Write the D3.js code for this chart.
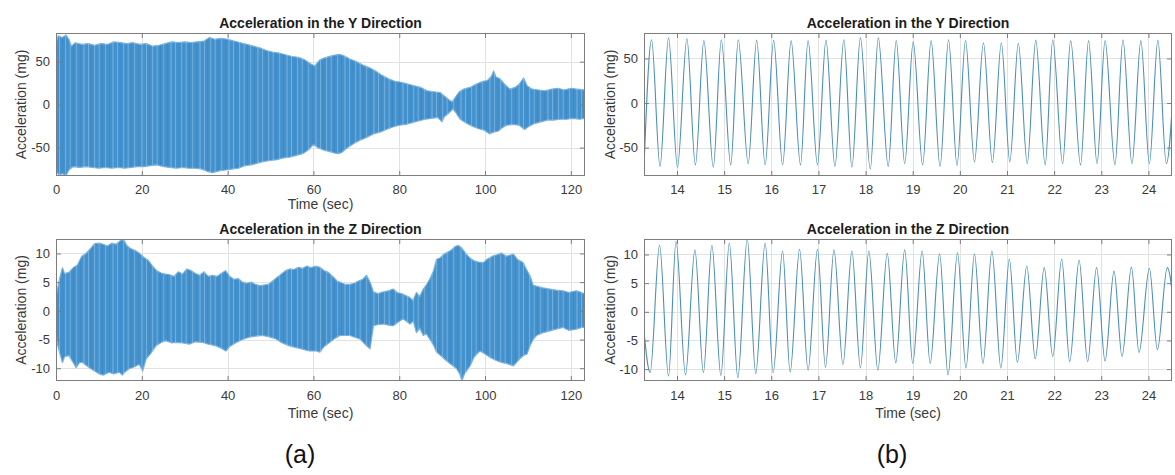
<!DOCTYPE html>
<html>
<head>
<meta charset="utf-8">
<script src="https://cdn.jsdelivr.net/npm/d3@7"></script>
<style>
  html, body { margin: 0; padding: 0; background: #ffffff; }
  svg { display: block; font-family: "Liberation Sans", Arial, Helvetica, sans-serif; }
</style>
</head>
<body>
<svg id="fig" width="1175" height="475"></svg>
<script>
// ---------- Full record (0–123 s): envelope of the acceleration trace ----------
// Y direction, upper envelope (time in s, acceleration in mg)
const yUpperTime = [0, 0.5, 1.5, 2.3, 3, 3.6, 4.5, 6, 7.5, 9, 10.5, 12, 13.5, 15, 16.5, 18, 19.5, 21, 22.5, 24, 25.5, 27, 28.5, 30, 31.5, 33, 34.5, 35.8, 37, 38.5, 40, 41.5, 43, 44.5, 46, 47.5, 49, 50.5, 52, 53.5, 55, 56.5, 58, 59.5, 60.3, 61.5, 63, 64.5, 66, 67, 68.5, 70, 71.5, 73, 74.5, 76, 77.5, 79, 80.5, 82, 83.5, 85, 86.5, 88, 89.5, 90.5, 91.5, 92.3, 93, 94, 95, 96.5, 98, 99.5, 100.5, 101.5, 102, 102.6, 103.5, 104.5, 105.8, 107, 108, 109, 109.8, 111, 112.5, 114, 115.5, 117, 118.5, 120, 121.5, 123.3];
const yUpperVal  = [72, 80, 78, 81, 76, 68, 72, 70, 71, 69, 71, 70, 73, 72, 71, 72, 70, 71, 68, 69, 71, 73, 72, 73, 72, 73, 74, 78, 76, 77, 76, 74, 72, 70, 68, 66, 63, 61, 60, 58, 56, 55, 52, 47, 45, 52, 55, 57, 58.5, 57, 53, 50, 46, 43, 39, 34, 30, 27, 26, 24, 22, 20, 16, 15, 14, 10, 6, 3, 8, 15, 18, 20, 24, 27, 28, 33, 39, 32, 30, 24, 18, 20, 24, 31, 22, 18, 17, 16, 18, 19, 17, 19, 18, 17];
// Y direction, lower envelope
const yLowerTime = [0, 0.8, 1.5, 2.3, 3, 4, 5.5, 7, 8.5, 10, 11.5, 13, 14.5, 16, 17.5, 19, 20.5, 22, 23.5, 25, 26.5, 28, 29.5, 31, 32.5, 34, 35.5, 36.5, 38, 39.5, 41, 42.5, 44, 45.5, 47, 48.5, 50, 51.5, 53, 54.5, 56, 57.5, 59, 60, 61, 62.5, 64, 65.5, 66.5, 68, 69.5, 71, 72.5, 74, 75.5, 77, 78.5, 80, 81.5, 83, 84.5, 86, 87.5, 89, 90, 90.5, 91.5, 92.5, 93.3, 94.2, 95.5, 97, 98.5, 100, 101, 102, 103, 104, 105, 106.5, 108, 109.2, 110, 111.5, 113, 114.5, 116, 117.5, 119, 120.5, 122, 123.3];
const yLowerVal  = [-78, -82, -80, -83, -76, -72, -73, -72, -73, -74, -73, -74, -73, -74, -73, -72, -72, -71, -70, -72, -73, -74, -73, -74, -74, -75, -78, -79, -77, -76, -75, -74, -71, -70, -68, -66, -65, -64, -62, -61, -59, -57, -52, -46, -50, -53, -55, -57, -56, -50, -45, -41, -38, -34, -32, -29, -26, -24, -23, -21, -19, -17, -16, -15, -20, -14, -10, -5, -10, -17, -21, -25, -28, -30, -34, -32, -31, -27, -24, -23, -24, -29, -26, -22, -20, -18, -18, -17, -17, -16, -17, -16];

// Z direction, upper envelope
const zUpperTime = [0, 0.4, 0.8, 1.5, 2, 3, 4, 5, 6, 7, 8, 9, 10, 11, 12, 13, 14, 15, 15.7, 16.5, 17.5, 18.5, 19.5, 20.5, 21.5, 22.5, 23.5, 24.5, 25.5, 26.5, 27.5, 28.5, 29.5, 30.5, 31.5, 32.5, 33.5, 34.5, 35.5, 36.5, 37.5, 38.5, 39.5, 40.5, 41.5, 42.5, 43.5, 44.5, 45.5, 46.5, 47.5, 48.5, 49.5, 50.5, 51.5, 52.5, 53.5, 54.5, 55.5, 56.5, 57.5, 58.5, 59.5, 60.5, 61.5, 62.5, 63.5, 64.5, 65.5, 66.5, 67.5, 68.5, 69.5, 70.5, 71.5, 72.4, 73.2, 74, 75, 76.3, 77.5, 78.6, 79.5, 80.9, 82, 82.5, 83.2, 84, 84.8, 85.6, 86.3, 87.1, 88, 88.7, 89.5, 90.3, 91, 92, 93, 93.8, 94.5, 95.5, 96.5, 97.5, 98.5, 99.6, 100.5, 101.9, 103, 103.8, 105, 106.6, 107.5, 108.9, 109.8, 110.5, 111.2, 112, 113.5, 115.1, 116.5, 118.2, 119.5, 121.3, 122.5, 123.3];
const zUpperVal  = [2.5, 4, 5.5, 7.5, 6.5, 6.7, 7.5, 8, 9.5, 10, 10.8, 11.7, 11.8, 11.6, 11.3, 11.8, 11.6, 12.2, 12.5, 11.4, 10.8, 10.5, 10, 9.3, 8.8, 7.8, 7, 6.6, 6.4, 6.3, 6, 6.8, 6.4, 7.3, 7, 6.5, 6.2, 6.8, 6, 6.2, 6, 6.5, 7, 6, 5.5, 5.6, 5, 4.8, 5, 4.6, 4.4, 4.5, 4.6, 5.2, 5.8, 6.4, 7, 7.3, 7.2, 7.6, 7.4, 7.8, 7.5, 7.8, 7.6, 7, 6.7, 6, 5.2, 4.9, 4.6, 4.6, 4.8, 5.2, 5.5, 6.2, 5, 3.3, 3, 3.3, 3.5, 3.8, 3.2, 2.9, 2.5, 2.3, 1.8, 3.2, 2.5, 3.8, 4.5, 5.5, 7, 9, 9.2, 9.8, 10.1, 10.5, 11.2, 11.4, 11, 10, 9.2, 8.7, 8.5, 8.4, 9, 9.6, 9.8, 10.1, 9.5, 9.9, 9, 8.4, 7, 6.1, 4.5, 4.3, 4, 3.8, 3.6, 3.5, 3.2, 3.5, 3.2, 2.9];
// Z direction, lower envelope
const zLowerTime = [0, 0.4, 0.8, 1.5, 2, 3, 4, 4.7, 5.5, 6.2, 7, 7.8, 9, 10.1, 11, 12.4, 13.4, 14.8, 15.5, 16, 17.1, 18.5, 19.4, 20.2, 21, 22, 23.3, 24.5, 25.6, 27, 28, 29.5, 31.1, 32.5, 34.2, 35.5, 37.3, 38.5, 39.6, 40.5, 42, 43.5, 45, 46.5, 48.2, 49.5, 51.3, 52.5, 54.4, 56, 57.5, 59, 60.6, 61.5, 62.5, 63.8, 65, 66.2, 68.5, 70.8, 72.4, 73.2, 74, 75, 76.3, 77.5, 78.6, 79.7, 80.9, 82.5, 83.3, 84, 84.8, 85.6, 86.3, 87.1, 88, 88.7, 90, 91, 92.2, 93.4, 94.1, 94.6, 95.2, 96.5, 97.5, 98.8, 100, 101.1, 102.5, 103.8, 105.2, 106.6, 107.8, 108.9, 109.8, 110.5, 111.2, 112, 113.5, 115.1, 116.5, 118.2, 119.5, 121.3, 122.5, 123.3];
const zLowerVal  = [-4, -6, -7.2, -9, -8, -7.8, -9, -9.9, -9, -9, -9.5, -9.9, -10.5, -11, -11.2, -10.7, -11, -10.7, -11.2, -10.7, -10.1, -9.7, -9.3, -10.5, -8.4, -7.5, -6.1, -5.5, -5.2, -5.6, -5.5, -5.6, -5.8, -5.4, -5.5, -5.8, -6.1, -6.5, -7, -6.2, -5.5, -5, -4.6, -4.4, -4.3, -4.5, -4.9, -5.5, -6.1, -6.4, -6.7, -7, -7, -7.2, -6.2, -5.5, -4.8, -4.3, -4.3, -4.9, -6.1, -6.6, -2.6, -2.4, -2.3, -2.5, -2.6, -2, -1.4, -2.3, -1.8, -3.8, -3, -4.3, -4, -4.9, -6, -7.2, -8, -8.7, -9.4, -10.1, -11, -12.2, -11, -9.6, -8, -7, -7.5, -8.1, -8.6, -9, -9.2, -9.6, -8.6, -7.8, -7.5, -6.1, -5, -4.3, -3.8, -3.5, -3.2, -2.9, -3.4, -3.2, -2.9, -2.9];

// ---------- Close-up window (13.3–24.5 s): successive peaks and troughs ----------
const yPeakTime = [13.30, 13.46, 13.64, 13.82, 14.01, 14.21, 14.39, 14.57, 14.77, 14.94, 15.14, 15.30, 15.51, 15.69, 15.87, 16.05, 16.24, 16.42, 16.62, 16.78, 16.98, 17.16, 17.35, 17.54, 17.71, 17.89, 18.10, 18.27, 18.48, 18.65, 18.83, 19.01, 19.21, 19.39, 19.58, 19.76, 19.94, 20.12, 20.31, 20.50, 20.69, 20.88, 21.06, 21.24, 21.43, 21.61, 21.81, 21.97, 22.18, 22.35, 22.56, 22.73, 22.91, 23.08, 23.29, 23.46, 23.65, 23.84, 24.02, 24.20, 24.38, 24.58];
const yPeakVal  = [-72, 71, -71, 73, -72, 72, -69.5, 70, -72, 71, -69.5, 71, -68, 70.5, -69.5, 70.5, -69.5, 70, -69.5, 70, -69.5, 70.5, -71, 71, -72, 73, -74, 73, -71, 70, -68, 68.5, -69.5, 70, -71, 71, -70, 70, -66, 67.5, -67, 67.5, -66, 67, -68, 70.5, -69.5, 71, -68, 70, -69.5, 70, -68, 70, -69.5, 71, -68, 70, -68, 70.5, -68, 69];

const zPeakTime = [13.30, 13.43, 13.63, 13.82, 13.98, 14.18, 14.38, 14.56, 14.74, 14.93, 15.11, 15.29, 15.49, 15.67, 15.87, 16.04, 16.24, 16.40, 16.60, 16.78, 16.98, 17.15, 17.33, 17.52, 17.71, 17.89, 18.07, 18.26, 18.46, 18.64, 18.83, 19.00, 19.20, 19.37, 19.57, 19.75, 19.95, 20.13, 20.31, 20.49, 20.68, 20.87, 21.05, 21.22, 21.42, 21.60, 21.79, 21.97, 22.16, 22.33, 22.53, 22.71, 22.90, 23.08, 23.27, 23.44, 23.64, 23.80, 24.02, 24.19, 24.40, 24.62];
const zPeakVal  = [-3.5, -10.6, 11.6, -11.2, 12.3, -11, 10.8, -10.6, 11.6, -11.1, 12, -11.5, 12.7, -10.8, 12, -10.6, 10.6, -10.5, 10.9, -10.2, 10.9, -9.65, 10.8, -9.2, 10.6, -9.8, 10.6, -10.2, 10.2, -8.9, 10.8, -9, 10.6, -9, 10.1, -11, 10.3, -9.8, 10.1, -9, 10.6, -9.8, 9.2, -8.8, 8, -8.2, 7.7, -7.8, 9.2, -8.7, 9, -8.7, 7.7, -8.6, 7.1, -7.8, 7.8, -7.1, 7.6, -6.6, 7.7, -7];

// ---------- Axis limits and ticks ----------
const fullTimeRange = [0, 123.3];
const zoomTimeRange = [13.3, 24.5];
const fullTimeTicks = [0, 20, 40, 60, 80, 100, 120];
const zoomTimeTicks = [14, 15, 16, 17, 18, 19, 20, 21, 22, 23, 24];
const yFullRange = [-83, 83.3];
const yZoomRange = [-81.8, 78.5];
const zFullRange = [-12.23, 12.52];
const zZoomRange = [-12.07, 12.7];
const yAccelTicks = [-50, 0, 50];
const zAccelTicks = [-10, -5, 0, 5, 10];

const titles = ["Acceleration in the Y Direction", "Acceleration in the Z Direction"];
const xLabel = "Time (sec)";
const yLabel = "Acceleration (mg)";
const panelTags = ["(a)", "(b)"];

const svg = d3.select("#fig");
const COL_TEXT = "#3a3a3a";
const COL_BOX = "#7d7d7d";
const COL_GRID = "#e2e2e2";

// fine vertical streaks that a densely sampled trace leaves inside its band
const defs = svg.append("defs");
const streaks = defs.append("pattern").attr("id", "streaks")
  .attr("patternUnits", "userSpaceOnUse").attr("width", 29).attr("height", 10);
[[1.2, 0.7, "#d8ecf9", 0.85], [4.6, 0.6, "#2c6fa6", 0.7], [7.3, 0.8, "#cfe6f7", 0.8],
 [11.8, 0.6, "#e6f3fc", 0.9], [14.9, 0.7, "#2a6aa0", 0.6], [18.4, 0.7, "#d4eaf8", 0.8],
 [22.1, 0.6, "#336fa3", 0.65], [25.6, 0.8, "#dceefa", 0.85]].forEach(([px, w, c, o]) => {
  streaks.append("rect").attr("x", px).attr("y", 0).attr("width", w).attr("height", 10)
    .attr("fill", c).attr("opacity", o);
});

let clipId = 0;

function panel(cfg) {
  const { x0, x1, y0, y1 } = cfg;
  const x = d3.scaleLinear().domain(cfg.xDomain).range([x0, x1]);
  const y = d3.scaleLinear().domain(cfg.yDomain).range([y1, y0]);
  const g = svg.append("g");

  // grid
  g.append("g").selectAll("line").data(cfg.xTicks).join("line")
    .attr("x1", d => Math.round(x(d)) + 0.5).attr("x2", d => Math.round(x(d)) + 0.5)
    .attr("y1", y0).attr("y2", y1)
    .attr("stroke", COL_GRID).attr("stroke-width", 1);
  g.append("g").selectAll("line").data(cfg.yTicks).join("line")
    .attr("y1", d => Math.round(y(d)) + 0.5).attr("y2", d => Math.round(y(d)) + 0.5)
    .attr("x1", x0).attr("x2", x1)
    .attr("stroke", COL_GRID).attr("stroke-width", 1);

  // data
  const id = "clip" + (clipId++);
  defs.append("clipPath").attr("id", id).append("rect")
    .attr("x", x0).attr("y", y0).attr("width", x1 - x0).attr("height", y1 - y0);
  const dg = g.append("g").attr("clip-path", `url(#${id})`);
  cfg.draw(dg, x, y);

  // ticks (inside the box, on all four sides)
  const styleAxis = a => {
    a.select(".domain").remove();
    a.selectAll(".tick line").attr("stroke", COL_BOX);
    a.selectAll(".tick text").attr("fill", COL_TEXT).attr("font-size", 13)
      .attr("font-family", "'Liberation Sans', Arial, Helvetica, sans-serif");
  };
  const fmt = d => String(d);
  g.append("g").attr("transform", `translate(0,${y1})`)
    .call(d3.axisBottom(x).tickValues(cfg.xTicks).tickSize(-5).tickPadding(cfg.tickPad).tickFormat(fmt))
    .call(styleAxis);
  g.append("g").attr("transform", `translate(0,${y0})`)
    .call(d3.axisTop(x).tickValues(cfg.xTicks).tickSize(-5).tickFormat(""))
    .call(styleAxis);
  g.append("g").attr("transform", `translate(${x0},0)`)
    .call(d3.axisLeft(y).tickValues(cfg.yTicks).tickSize(-5).tickPadding(6).tickFormat(fmt))
    .call(styleAxis);
  g.append("g").attr("transform", `translate(${x1},0)`)
    .call(d3.axisRight(y).tickValues(cfg.yTicks).tickSize(-5).tickFormat(""))
    .call(styleAxis);

  // box
  g.append("rect").attr("x", x0 + 0.5).attr("y", y0 + 0.5)
    .attr("width", x1 - x0 - 1).attr("height", y1 - y0 - 1)
    .attr("fill", "none").attr("stroke", COL_BOX).attr("stroke-width", 1);

  // title
  const cx = (x0 + x1) / 2;
  g.append("text").attr("x", cx).attr("y", y0 - 5.3)
    .attr("text-anchor", "middle").attr("font-size", 14).attr("font-weight", "bold")
    .attr("fill", "#1c1c1c").text(cfg.title);

  // axis labels
  if (cfg.xLabelGap) {
    g.append("text").attr("x", cx).attr("y", y1 + cfg.xLabelGap)
      .attr("text-anchor", "middle").attr("font-size", 14)
      .attr("fill", COL_TEXT).text(xLabel);
  }
  g.append("text")
    .attr("transform", `translate(${cfg.labelX},${(y0 + y1) / 2}) rotate(-90)`)
    .attr("text-anchor", "middle").attr("font-size", 14)
    .attr("fill", COL_TEXT).text(yLabel);
}

// band drawn from the envelope of the full record
function envelope(upT, upV, loT, loV) {
  return (g, x, y) => {
    const pts = upT.map((t, i) => [t, upV[i]])
      .concat(loT.map((t, i) => [t, loV[i]]).reverse());
    const d = d3.line().x(p => x(p[0])).y(p => y(p[1]))(pts) + "Z";
    g.append("path").attr("d", d)
      .attr("fill", "#4391cd")
      .attr("stroke", "#78b2dd").attr("stroke-width", 1.2)
      .attr("stroke-linejoin", "round");
    g.append("path").attr("d", d).attr("fill", "url(#streaks)").attr("opacity", 0.55);
  };
}

// smooth trace through successive extrema
function trace(tArr, vArr) {
  return (g, x, y) => {
    g.append("path")
      .datum(tArr.map((t, i) => [t, vArr[i]]))
      .attr("d", d3.line().curve(d3.curveMonotoneX).x(d => x(d[0])).y(d => y(d[1])))
      .attr("fill", "none").attr("stroke", "#4a8fb6").attr("stroke-width", 1.1);
  };
}

const leftX = [56, 585], rightX = [644, 1172];
const topY = [33, 176], botY = [239, 381];

panel({ x0: leftX[0], x1: leftX[1], y0: topY[0], y1: topY[1], xDomain: fullTimeRange, yDomain: yFullRange,
  xTicks: fullTimeTicks, yTicks: yAccelTicks, title: titles[0], tickPad: 8.6, xLabelGap: 32.5, labelX: 26,
  draw: envelope(yUpperTime, yUpperVal, yLowerTime, yLowerVal) });
panel({ x0: leftX[0], x1: leftX[1], y0: botY[0], y1: botY[1], xDomain: fullTimeRange, yDomain: zFullRange,
  xTicks: fullTimeTicks, yTicks: zAccelTicks, title: titles[1], tickPad: 9.5, xLabelGap: 37, labelX: 26,
  draw: envelope(zUpperTime, zUpperVal, zLowerTime, zLowerVal) });
panel({ x0: rightX[0], x1: rightX[1], y0: topY[0], y1: topY[1], xDomain: zoomTimeRange, yDomain: yZoomRange,
  xTicks: zoomTimeTicks, yTicks: yAccelTicks, title: titles[0], tickPad: 8.6, xLabelGap: 0, labelX: 614.5,
  draw: trace(yPeakTime, yPeakVal) });
panel({ x0: rightX[0], x1: rightX[1], y0: botY[0], y1: botY[1], xDomain: zoomTimeRange, yDomain: zZoomRange,
  xTicks: zoomTimeTicks, yTicks: zAccelTicks, title: titles[1], tickPad: 9.5, xLabelGap: 37, labelX: 614.5,
  draw: trace(zPeakTime, zPeakVal) });

// sub-figure tags
svg.append("text").attr("x", 300).attr("y", 463).attr("text-anchor", "middle")
  .attr("font-size", 25).attr("fill", "#111").text(panelTags[0]);
svg.append("text").attr("x", 892).attr("y", 463).attr("text-anchor", "middle")
  .attr("font-size", 25).attr("fill", "#111").text(panelTags[1]);
</script>
</body>
</html>
